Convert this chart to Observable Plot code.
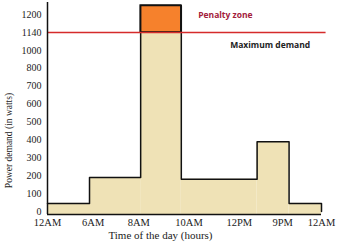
<!DOCTYPE html>
<html>
<head>
<meta charset="utf-8">
<script src="https://cdn.jsdelivr.net/npm/d3@7"></script>
<script src="https://cdn.jsdelivr.net/npm/@observablehq/plot@0.6"></script>
<style>
  html, body { margin: 0; padding: 0; background: #fff; }
  svg { display: block; }
</style>
</head>
<body>
<div id="chart"></div>
<script>
// Y tick labels (evenly spaced on the chart, not linear in watts)
const yTicks = [0, 100, 200, 300, 400, 500, 600, 700, 800, 1000, 1140, 1200];
// X tick labels and their positions (slot units)
const xLabels = ["12AM", "6AM", "8AM", "10AM", "12PM", "9PM", "12AM"];
const xLabelPos = [0, 1, 2, 3.1, 4.2, 5.15, 6];
// Step boundaries (slot units) and demand in watts for each interval
const stepStart = [0, 0.92, 2.04, 2.93, 4.59, 5.29];
const stepEnd   = [0.92, 2.04, 2.93, 4.59, 5.29, 6];
const demand    = [45, 190, 1230, 180, 390, 45];
const maxDemand = 1140;

// watts -> evenly spaced tick index
const w2i = d3.scaleLinear().domain(yTicks).range(yTicks.map((_, i) => i));

const segs = demand.map((v, i) => ({x1: stepStart[i], x2: stepEnd[i], v}));
const profile = segs.map(s => ({x: s.x1, y: w2i(s.v)}));
profile.push({x: 6, y: w2i(demand[demand.length - 1])});
profile.push({x: 6, y: 0});

const serif = "Liberation Serif, DejaVu Serif, serif";
const sans = "Open Sans, DejaVu Sans, sans-serif";

const chart = Plot.plot({
  width: 338,
  height: 244,
  marginLeft: 47,
  marginRight: 17,
  marginTop: 2,
  marginBottom: 30,
  style: {fontFamily: serif, fontSize: "10px", color: "#222", background: "#fff"},
  x: {domain: [0, 6], axis: null},
  y: {domain: [-0.17, 11.67], axis: null, label: null},
  marks: [
    Plot.rect(segs, {x1: "x1", x2: "x2", y1: -0.17, y2: d => w2i(Math.min(d.v, maxDemand)), fill: "#efe2b6"}),
    Plot.rect(segs.filter(d => d.v > maxDemand), {x1: "x1", x2: "x2", y1: w2i(maxDemand), y2: d => w2i(d.v), fill: "#f6812c", stroke: "#111", strokeWidth: 1.5}),
    Plot.line(profile, {x: "x", y: "y", curve: "step-after", stroke: "#111", strokeWidth: 1.5}),
    Plot.ruleY([maxDemand], {y: d => w2i(d), x1: 0, x2: 6.1, stroke: "#d52b2b", strokeWidth: 1.5}),
    Plot.ruleX([0], {y1: -0.17, y2: 11.67, stroke: "#111", strokeWidth: 1.5}),
    Plot.ruleY([-0.17], {x1: 0, x2: 6, stroke: "#111", strokeWidth: 1.5}),
    Plot.text(yTicks, {frameAnchor: "left", y: (d, i) => i, dx: -6, textAnchor: "end", text: d => String(d),
      fontFamily: serif, fontSize: 10, fill: "#222", fontWeight: d => d === 1200 ? "bold" : "normal"}),
    Plot.text(xLabelPos, {x: d => d, frameAnchor: "bottom", dy: 11, text: (d, i) => xLabels[i], fontFamily: serif, fontSize: 10.5, fill: "#222"}),
    Plot.text(["Time of the day (hours)"], {frameAnchor: "bottom", dx: -24, dy: 24, fontFamily: serif, fontSize: 11, fill: "#222"}),
    Plot.text(["Power demand (in watts)"], {frameAnchor: "left", textAnchor: "middle", rotate: -90, dx: -39, dy: 32, fontFamily: serif, fontSize: 9.5, fill: "#222"}),
    Plot.text(["Penalty zone"], {x: 3.3, y: 11, dy: 1, textAnchor: "start", fontFamily: sans, fontWeight: "bold", fontSize: 8.5, fill: "#a3203c"}),
    Plot.text(["Maximum demand"], {x: 4.0, y: 10, dy: 13, textAnchor: "start", fontFamily: sans, fontWeight: "bold", fontSize: 8.5, fill: "#222"})
  ]
});
document.getElementById("chart").appendChild(chart);
</script>
</body>
</html>
